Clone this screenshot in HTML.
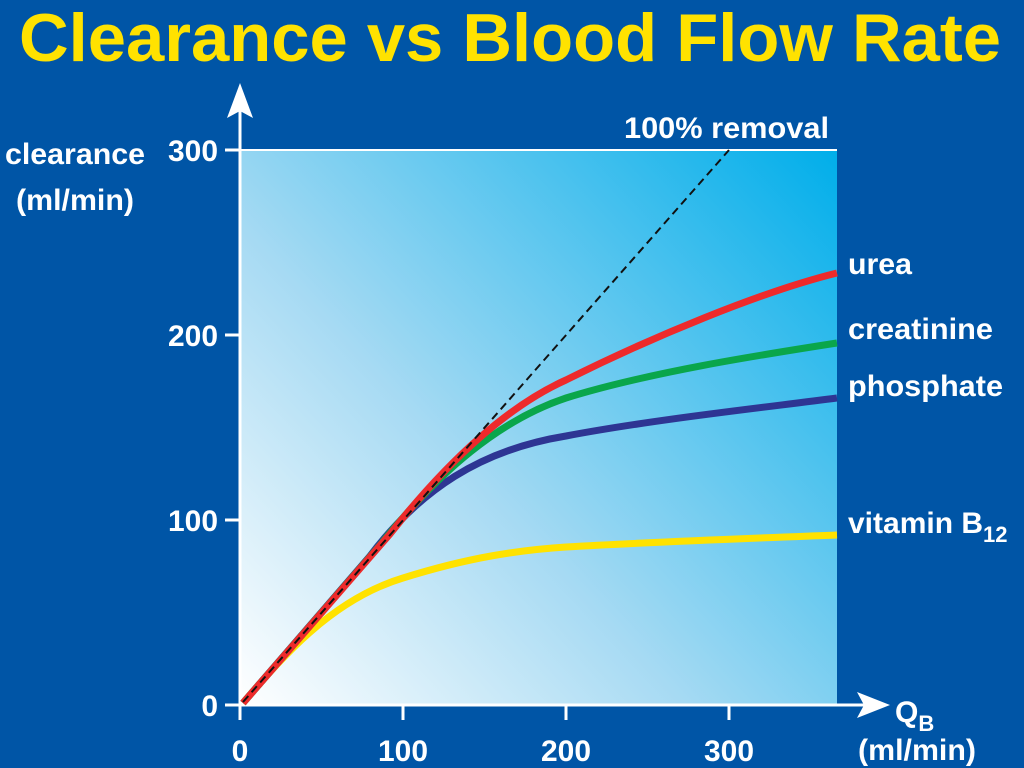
<!DOCTYPE html>
<html><head><style>
html,body{margin:0;padding:0;background:#0055a6;}
body{width:1024px;height:768px;overflow:hidden;position:relative;font-family:"Liberation Sans",sans-serif;}
</style></head><body>
<svg width="1024" height="768" viewBox="0 0 1024 768" xmlns="http://www.w3.org/2000/svg" style="position:absolute;left:0;top:0">
<defs>
<linearGradient id="g" x1="240" y1="705" x2="837" y2="150" gradientUnits="userSpaceOnUse">
<stop offset="0" stop-color="#ffffff"/>
<stop offset="0.4" stop-color="#a6daf3"/>
<stop offset="1" stop-color="#00aeea"/>
</linearGradient>
</defs>
<rect width="1024" height="768" fill="#0055a6"/>
<text x="510" y="61" text-anchor="middle" font-family="Liberation Sans, sans-serif" font-weight="bold" font-size="68" fill="#ffe200" textLength="982" lengthAdjust="spacingAndGlyphs">Clearance vs Blood Flow Rate</text>
<rect x="240" y="150" width="597" height="555" fill="url(#g)"/>
<line x1="240" y1="150" x2="837" y2="150" stroke="#fff" stroke-width="2"/>
<line x1="240" y1="705" x2="240" y2="95" stroke="#fff" stroke-width="3"/>
<polygon points="240,83 227,118 240,111 253,118" fill="#fff"/>
<line x1="240" y1="705" x2="875" y2="705" stroke="#fff" stroke-width="3"/>
<polygon points="890,705 857,692 864,705 857,718" fill="#fff"/>
<g stroke="#fff" stroke-width="3">
<line x1="225" y1="150" x2="240" y2="150"/><line x1="225" y1="335" x2="240" y2="335"/>
<line x1="225" y1="520" x2="240" y2="520"/><line x1="225" y1="705" x2="240" y2="705"/>
<line x1="240" y1="705" x2="240" y2="720"/><line x1="403" y1="705" x2="403" y2="720"/>
<line x1="566" y1="705" x2="566" y2="720"/><line x1="729" y1="705" x2="729" y2="720"/>
</g>
<g fill="#fff" font-weight="bold" font-size="30" font-family="Liberation Sans, sans-serif" lengthAdjust="spacingAndGlyphs">
<text x="218" y="161" text-anchor="end" textLength="50" lengthAdjust="spacingAndGlyphs">300</text>
<text x="218" y="346" text-anchor="end" textLength="50" lengthAdjust="spacingAndGlyphs">200</text>
<text x="218" y="531" text-anchor="end" textLength="50" lengthAdjust="spacingAndGlyphs">100</text>
<text x="218" y="716" text-anchor="end">0</text>
<text x="240" y="761" text-anchor="middle">0</text>
<text x="403" y="761" text-anchor="middle" textLength="50" lengthAdjust="spacingAndGlyphs">100</text>
<text x="566" y="761" text-anchor="middle" textLength="50" lengthAdjust="spacingAndGlyphs">200</text>
<text x="729" y="761" text-anchor="middle" textLength="50" lengthAdjust="spacingAndGlyphs">300</text>
<text x="5" y="164" textLength="140" lengthAdjust="spacingAndGlyphs">clearance</text>
<text x="16" y="210" textLength="118" lengthAdjust="spacingAndGlyphs">(ml/min)</text>
<text x="624" y="138" textLength="205" lengthAdjust="spacingAndGlyphs">100% removal</text>
<text x="895" y="722">Q<tspan font-size="22" dy="9">B</tspan></text>
<text x="858" y="760" textLength="118" lengthAdjust="spacingAndGlyphs">(ml/min)</text>
<text x="848" y="274" textLength="64" lengthAdjust="spacingAndGlyphs">urea</text>
<text x="848" y="339" textLength="145" lengthAdjust="spacingAndGlyphs">creatinine</text>
<text x="848" y="396" textLength="155" lengthAdjust="spacingAndGlyphs">phosphate</text>
<text x="848" y="533">vitamin B<tspan font-size="22" dy="9">12</tspan></text>
</g>
<g fill="none" stroke-width="7" stroke-linecap="butt">
<path d="M243,703 C280,660 330,600 403,578 C470,557 520,550 566,547 C650,542 760,538 837,535" stroke="#ffe200"/>
<path d="M243,703 L370,556 C420,490 480,450 566,436 C650,420 760,408 837,398" stroke="#2e3593"/>
<path d="M243,703 L380,545 C440,470 500,420 566,398 C650,372 760,355 837,343" stroke="#0aa64b"/>
<path d="M243,703 L390,534 C450,458 510,405 566,380 C650,338 760,292 837,273" stroke="#ee2a2b"/>
</g>
<line x1="243" y1="702" x2="729" y2="150" stroke="#111" stroke-width="2" stroke-dasharray="8,5"/>
</svg>
</body></html>
